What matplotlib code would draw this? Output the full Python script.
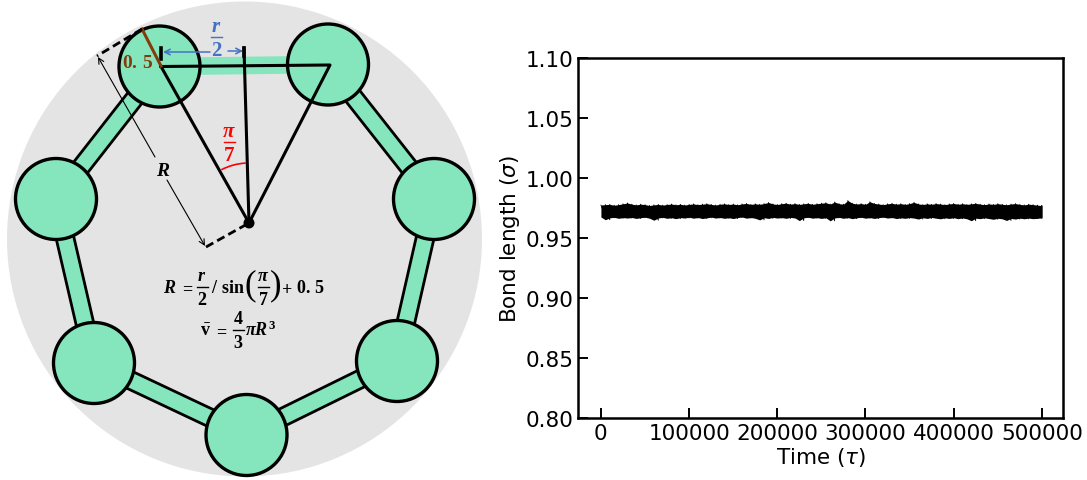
import numpy as np
import matplotlib
matplotlib.use("Agg")
import matplotlib.pyplot as plt
from matplotlib.patches import Circle, Polygon, Arc

plt.rcParams['mathtext.fontset'] = 'custom'
plt.rcParams['mathtext.rm'] = 'Liberation Serif:bold'
plt.rcParams['mathtext.it'] = 'Liberation Serif:italic:bold'
plt.rcParams['mathtext.bf'] = 'Liberation Serif:bold'

# bead centres of the ring, in picture pixels
bead_x = [159.5, 328, 434, 397, 246.5, 94, 56]
bead_y = [67.5, 65.5, 200, 362, 436, 364, 200]
center_x, center_y = 249, 224

time = list(range(0, 505000, 5000))
upper = [0.9775, 0.9778, 0.9780, 0.9773, 0.9778, 0.9785, 0.9792, 0.9782, 0.9776, 0.9782, 0.9778, 0.9771,
         0.9776, 0.9780, 0.9774, 0.9779, 0.9783, 0.9777, 0.9781, 0.9775, 0.9780, 0.9784, 0.9778, 0.9782,
         0.9786, 0.9780, 0.9775, 0.9781, 0.9785, 0.9779, 0.9783, 0.9777, 0.9784, 0.9788, 0.9780, 0.9785,
         0.9781, 0.9787, 0.9796, 0.9784, 0.9779, 0.9786, 0.9790, 0.9782, 0.9787, 0.9780, 0.9785, 0.9789,
         0.9781, 0.9786, 0.9790, 0.9794, 0.9783, 0.9800, 0.9786, 0.9782, 0.9812, 0.9790, 0.9783, 0.9787,
         0.9781, 0.9802, 0.9788, 0.9783, 0.9778, 0.9785, 0.9789, 0.9782, 0.9786, 0.9780, 0.9787, 0.9797,
         0.9784, 0.9779, 0.9785, 0.9781, 0.9787, 0.9783, 0.9778, 0.9784, 0.9788, 0.9781, 0.9786, 0.9780,
         0.9785, 0.9789, 0.9782, 0.9778, 0.9784, 0.9780, 0.9786, 0.9781, 0.9777, 0.9783, 0.9787, 0.9780,
         0.9776, 0.9782, 0.9778, 0.9774, 0.9770]
lower = [0.9675, 0.9652, 0.9668, 0.9672, 0.9664, 0.9670, 0.9666, 0.9671, 0.9663, 0.9669, 0.9673, 0.9665,
         0.9648, 0.9667, 0.9672, 0.9664, 0.9669, 0.9661, 0.9670, 0.9666, 0.9673, 0.9665, 0.9671, 0.9662,
         0.9668, 0.9674, 0.9666, 0.9671, 0.9664, 0.9669, 0.9662, 0.9670, 0.9675, 0.9665, 0.9671, 0.9664,
         0.9651, 0.9669, 0.9663, 0.9672, 0.9666, 0.9670, 0.9664, 0.9671, 0.9667, 0.9645, 0.9668, 0.9673,
         0.9665, 0.9670, 0.9663, 0.9669, 0.9643, 0.9667, 0.9672, 0.9664, 0.9670, 0.9661, 0.9668, 0.9673,
         0.9665, 0.9670, 0.9663, 0.9669, 0.9674, 0.9666, 0.9671, 0.9662, 0.9668, 0.9664, 0.9670, 0.9666,
         0.9658, 0.9669, 0.9663, 0.9671, 0.9665, 0.9660, 0.9668, 0.9663, 0.9669, 0.9661, 0.9667, 0.9660,
         0.9644, 0.9665, 0.9661, 0.9668, 0.9662, 0.9656, 0.9664, 0.9660, 0.9646, 0.9663, 0.9658, 0.9665,
         0.9660, 0.9666, 0.9661, 0.9664, 0.9668]
y_ticks = [0.80, 0.85, 0.90, 0.95, 1.00, 1.05, 1.10]
x_ticks = [0, 100000, 200000, 300000, 400000, 500000]

GREEN = '#85E6BD'
GRAY = '#E4E4E4'
BLUE = '#4472C4'
BROWN = '#843C0C'


def dashed(ax, a, b):
    ax.plot([a[0], b[0]], [a[1], b[1]], color='k', lw=2, ls=(0, (3, 1.6)), zorder=6)


def thinArrow(ax, a, b, color='k', lw=0.8):
    ax.annotate('', xy=b, xytext=a, zorder=6,
                arrowprops=dict(arrowstyle='->', color=color, lw=lw, shrinkA=0, shrinkB=0,
                                mutation_scale=10))


def label(ax, x, y, s, color='k', size=13):
    ax.text(x, y, s, color=color, fontsize=size, ha='center', va='center', zorder=7)


def fraction(ax, x, y, top, bottom, color='k', size=13, gap=12):
    # mathtext fractions come out too small, so stack the parts by hand
    label(ax, x, y - gap, top, color, size)
    label(ax, x, y + gap, bottom, color, size)
    ax.plot([x - 5.5, x + 5.5], [y, y], color=color, lw=1, zorder=7)


if __name__ == "__main__":
    fig = plt.figure(figsize=(10.87, 4.81), dpi=100)

    # ---- schematic, drawn in picture pixels
    ax0 = fig.add_axes([0, 0, 1, 1])
    ax0.set_xlim(0, 1087)
    ax0.set_ylim(481, 0)
    ax0.axis('off')
    ax0.add_patch(Circle((244.5, 240), 237.5, fc=GRAY, ec='none', zorder=0))

    # bonds between neighbouring beads
    half = 8.8
    for i in range(len(bead_x)):
        j = (i + 1) % len(bead_x)
        p = np.array([bead_x[i], bead_y[i]])
        q = np.array([bead_x[j], bead_y[j]])
        n = np.array([q[1] - p[1], p[0] - q[0]]) / np.hypot(*(q - p)) * half
        ax0.add_patch(Polygon([p + n, q + n, q - n, p - n], fc=GREEN, ec='none', zorder=1))
        if i != 0:
            for s in (1, -1):
                ax0.plot([p[0] + s * n[0], q[0] + s * n[0]], [p[1] + s * n[1], q[1] + s * n[1]],
                         color='k', lw=2, zorder=2)

    for x, y in zip(bead_x, bead_y):
        ax0.add_patch(Circle((x, y), 40.5, fc=GREEN, ec='k', lw=2.4, zorder=3))

    # triangle and half chord
    ax0.plot([161, 330, center_x, 161], [67.5, 66, center_y, 67.5], color='k', lw=2.2, zorder=5)
    ax0.plot([244, center_x], [49, center_y], color='k', lw=2.2, zorder=5)
    ax0.plot([161, 161], [49, 60], color='k', lw=2.6, zorder=5)
    ax0.plot([244, 244], [49, 57], color='k', lw=2.6, zorder=5)
    ax0.add_patch(Circle((center_x, center_y), 5.5, fc='k', ec='none', zorder=6))

    # bead radius and R construction
    ax0.plot([142, 161], [30, 67], color=BROWN, lw=2.2, zorder=5)
    label(ax0, 138, 62, r'$\mathbf{0.\,5}$', BROWN, 14)
    dashed(ax0, (142, 30), (97, 57))
    dashed(ax0, (206, 248), (center_x, center_y))
    thinArrow(ax0, (155, 158), (98, 58))
    thinArrow(ax0, (167, 181), (205, 247))
    label(ax0, 163, 171, r'$R$', 'k', 14)

    # r/2
    thinArrow(ax0, (210, 53), (163, 53), BLUE, 1.1)
    thinArrow(ax0, (228, 52), (243, 52), BLUE, 1.1)
    fraction(ax0, 216.5, 38, r'$r$', r'$\mathbf{2}$', BLUE, 15)

    # pi/7 angle
    ax0.add_patch(Arc((center_x, center_y), 120, 120, theta1=-117.5, theta2=-93, color='r', lw=1.2, zorder=6))
    fraction(ax0, 229, 143, r'$\pi$', r'$\mathbf{7}$', 'r', 15)

    # formulas
    label(ax0, 170, 288, r'$R$')
    label(ax0, 187, 288, r'$\mathbf{=}$')
    fraction(ax0, 202, 288, r'$r$', r'$\mathbf{2}$')
    label(ax0, 215, 288, r'$\mathbf{/}$')
    label(ax0, 233, 288, r'$\mathbf{sin}$')
    ax0.text(250, 286, '(', family='Liberation Serif', fontsize=25, ha='center', va='center', zorder=7)
    fraction(ax0, 263, 288, r'$\pi$', r'$\mathbf{7}$')
    ax0.text(276, 286, ')', family='Liberation Serif', fontsize=25, ha='center', va='center', zorder=7)
    label(ax0, 287, 288, r'$\mathbf{+}$')
    label(ax0, 311, 288, r'$\mathbf{0.\,5}$')

    label(ax0, 206, 331, r'$\bar{\mathbf{v}}$')
    label(ax0, 221, 331, r'$\mathbf{=}$')
    fraction(ax0, 238, 331, r'$\mathbf{4}$', r'$\mathbf{3}$')
    label(ax0, 261, 330, r'$\pi R^{\mathbf{3}}$')

    # ---- bond length vs time
    ax1 = fig.add_axes([578 / 1087, 1 - 419 / 481, 485 / 1087, 360 / 481])
    # every reading goes in turn to the top and the bottom of the band
    trace_x = [t for pair in zip(time, time[1:] + [time[-1]]) for t in pair]
    trace_y = [v for pair in zip(upper, lower) for v in pair]
    ax1.fill_between(time, lower, upper, color='k', lw=0)
    ax1.plot(trace_x, trace_y, color='k', lw=0.6, solid_joinstyle='round', solid_capstyle='round')
    ax1.set_ylim(0.80, 1.10)
    ax1.set_xlim(-26000, 524000)
    ax1.set_xticks(x_ticks)
    ax1.set_yticks(y_ticks)
    ax1.set_yticklabels(['%.2f' % v for v in y_ticks])
    ax1.tick_params(direction='in', length=7, width=1.4, labelsize=15.5)
    for spine in ax1.spines.values():
        spine.set_linewidth(1.8)
    ax1.set_xlabel(r'Time ($\tau$)', fontsize=15.5, labelpad=1.5)
    ax1.set_ylabel(r'Bond length ($\sigma$)', fontsize=15.5, labelpad=2.5)
    for lab in [ax1.xaxis.label, ax1.yaxis.label]:
        lab.set_math_fontfamily('dejavusans')

    fig.savefig("out.png", dpi=100)
